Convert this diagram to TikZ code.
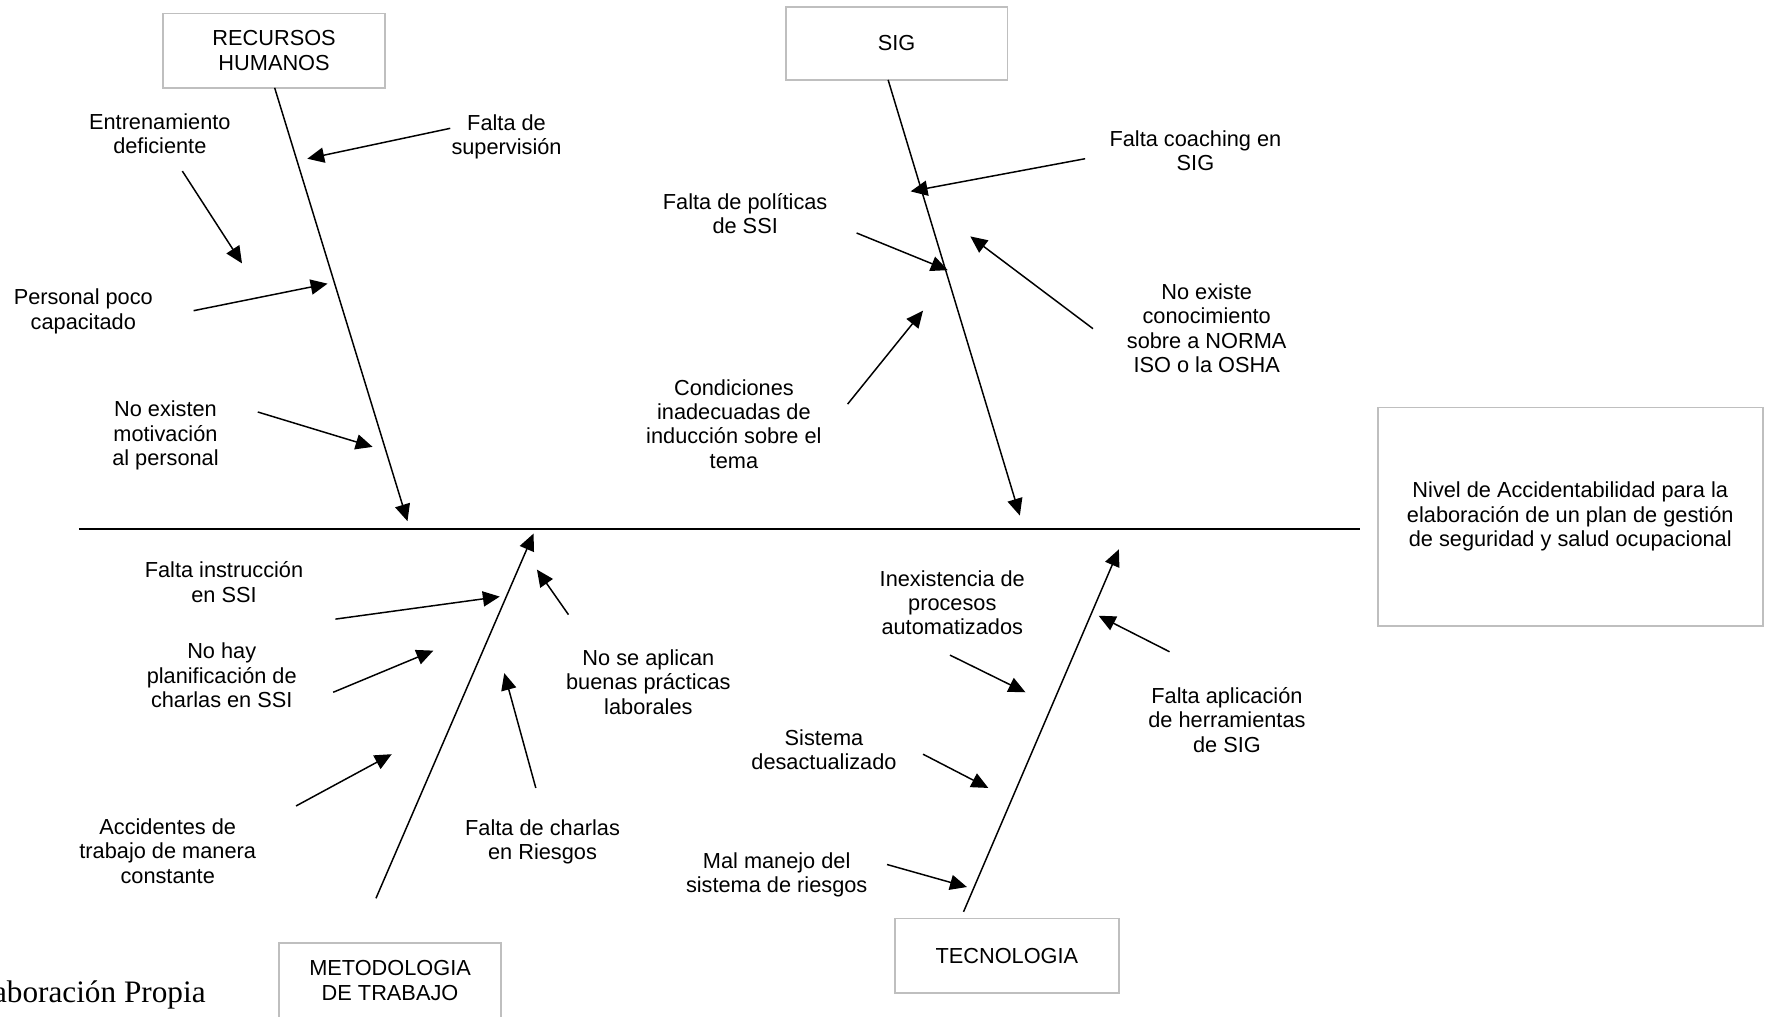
\documentclass[tikz,border=0pt]{standalone}
\usepackage{fontspec}
\setmainfont{Liberation Sans}
\newfontfamily\timesf{Liberation Serif}
\usetikzlibrary{arrows.meta}
\definecolor{boxgray}{RGB}{191,191,191}
\begin{document}
\begin{tikzpicture}[x=0.02cm,y=-0.02cm,
  box/.style={draw=boxgray,line width=0.85pt,align=center,inner sep=0pt,
    font=\fontsize{11}{12.3}\selectfont},
  txt/.style={align=center,inner sep=0pt,font=\fontsize{11}{12.3}\selectfont},
  arr/.style={line width=0.75pt,-{Triangle[length=0.3cm,width=0.27cm]}},
  spine/.style={line width=1.15pt}]
\useasboundingbox (0,0) rectangle (1568,903);

% effect and category boxes
\node[box,minimum width=6.84cm,minimum height=3.88cm] (eff) at (1395,459)
  {Nivel de Accidentabilidad para la\\elaboración de un plan de gestión\\de seguridad y salud ocupacional};
\node[box,minimum width=3.94cm,minimum height=1.32cm] (rh) at (243.5,45) {RECURSOS\\HUMANOS};
\node[box,minimum width=3.94cm,minimum height=1.30cm] (sig) at (796.5,38.5) {SIG};
\node[box,minimum width=3.94cm,minimum height=1.32cm] (met) at (346.5,871) {METODOLOGIA\\DE TRABAJO};
\node[box,minimum width=3.98cm,minimum height=1.32cm] (tec) at (894.5,849) {TECNOLOGIA};

\node[anchor=base east,inner sep=0pt,font=\timesf\fontsize{15.8}{17}\selectfont] (src) at (183,891) {Elaboración Propia};

% spine
\coordinate (spL) at (70,470);
\coordinate (spR) at (1208,470);
\draw[spine] (spL) -- (spR);

% main branches
\coordinate (rhS) at (244,78);   \coordinate (rhE) at (362,463);
\coordinate (sigS) at (789,71);  \coordinate (sigE) at (906,458);
\coordinate (metS) at (334,798); \coordinate (metE) at (474,474);
\coordinate (tecS) at (856,810); \coordinate (tecE) at (994,488);
\draw[arr] (rhS) -- (rhE);
\draw[arr] (sigS) -- (sigE);
\draw[arr] (metS) -- (metE);
\draw[arr] (tecS) -- (tecE);

% RECURSOS HUMANOS causes
\node[txt] (c1) at (142,119) {Entrenamiento\\deficiente};
\node[txt] (c2) at (450,121.5) {Falta de\\supervisión};
\node[txt] (c3) at (74,276.5) {Personal poco\\capacitado};
\node[txt] (c4) at (147,387) {No existen\\motivación\\al personal};
\coordinate (c1s) at (162,152); \coordinate (c1e) at (215,234);
\coordinate (c2s) at (400,114); \coordinate (c2e) at (273,141);
\coordinate (c3s) at (172,276); \coordinate (c3e) at (291,252);
\coordinate (c4s) at (229,366); \coordinate (c4e) at (331,397);
\draw[arr] (c1s) -- (c1e);
\draw[arr] (c2s) -- (c2e);
\draw[arr] (c3s) -- (c3e);
\draw[arr] (c4s) -- (c4e);

% SIG causes
\node[txt] (s1) at (1062,134) {Falta coaching en\\SIG};
\node[txt] (s2) at (662,190) {Falta de políticas\\de SSI};
\node[txt] (s3) at (1072,291.5) {No existe\\conocimiento\\sobre a NORMA\\ISO o la OSHA};
\node[txt] (s4) at (652,376.5) {Condiciones\\inadecuadas de\\inducción sobre el\\tema};
\coordinate (s1s) at (964,141); \coordinate (s1e) at (809,170);
\coordinate (s2s) at (761,207); \coordinate (s2e) at (842,240);
\coordinate (s3s) at (971,292); \coordinate (s3e) at (862,210);
\coordinate (s4s) at (753,359); \coordinate (s4e) at (820,276);
\draw[arr] (s1s) -- (s1e);
\draw[arr] (s2s) -- (s2e);
\draw[arr] (s3s) -- (s3e);
\draw[arr] (s4s) -- (s4e);

% METODOLOGIA causes
\node[txt] (m1) at (199,517) {Falta instrucción\\en SSI};
\node[txt] (m2) at (197,600) {No hay\\planificación de\\charlas en SSI};
\node[txt] (m3) at (149,756) {Accidentes de\\trabajo de manera\\constante};
\node[txt] (m4) at (576,606) {No se aplican\\buenas prácticas\\laborales};
\node[txt] (m5) at (482,748) {Falta de charlas\\en Riesgos};
\coordinate (m1s) at (298,550); \coordinate (m1e) at (444,530);
\coordinate (m2s) at (296,615); \coordinate (m2e) at (385,578);
\coordinate (m3s) at (263,716); \coordinate (m3e) at (348,670);
\coordinate (m4s) at (505,546); \coordinate (m4e) at (477,506);
\coordinate (m5s) at (476,700); \coordinate (m5e) at (448,598);
\draw[arr] (m1s) -- (m1e);
\draw[arr] (m2s) -- (m2e);
\draw[arr] (m3s) -- (m3e);
\draw[arr] (m4s) -- (m4e);
\draw[arr] (m5s) -- (m5e);

% TECNOLOGIA causes
\node[txt] (k1) at (846,535.5) {Inexistencia de\\procesos\\automatizados};
\node[txt] (k2) at (732,666) {Sistema\\desactualizado};
\node[txt] (k3) at (690,777) {Mal manejo del\\sistema de riesgos};
\node[txt] (k4) at (1090,639.5) {Falta aplicación\\de herramientas\\de SIG};
\coordinate (k1s) at (844,582); \coordinate (k1e) at (911,615);
\coordinate (k2s) at (820,670); \coordinate (k2e) at (878,700);
\coordinate (k3s) at (788,768); \coordinate (k3e) at (859,788);
\coordinate (k4s) at (1039,579); \coordinate (k4e) at (976,547);
\draw[arr] (k1s) -- (k1e);
\draw[arr] (k2s) -- (k2e);
\draw[arr] (k3s) -- (k3e);
\draw[arr] (k4s) -- (k4e);
\end{tikzpicture}
\end{document}
